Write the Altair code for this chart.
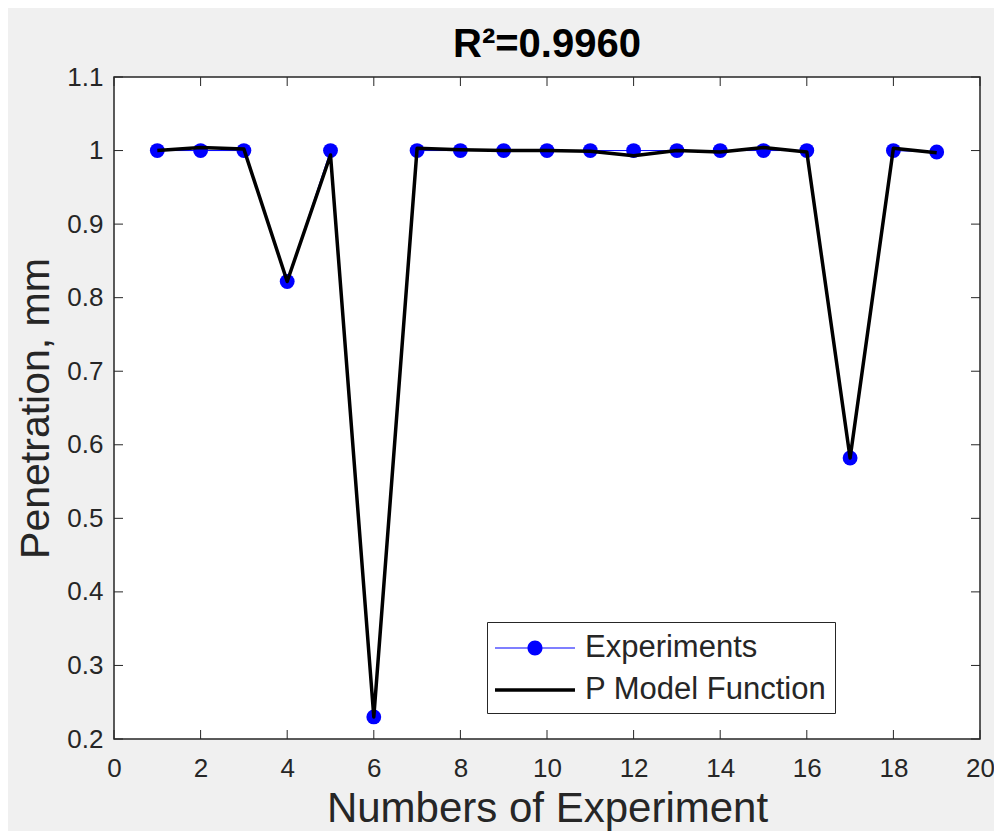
import altair as alt
import pandas as pd

# ---------------- data ----------------
experiment_no = list(range(1, 20))
experiments = [1.000, 1.000, 1.000, 0.822, 1.000, 0.230, 1.000, 1.000, 1.000, 1.000,
               1.000, 1.000, 1.000, 1.000, 1.000, 1.000, 0.582, 1.000, 0.998]
p_model = [1.000, 1.004, 1.002, 0.822, 0.994, 0.230, 1.003, 1.001, 1.000, 1.000,
           0.999, 0.993, 1.000, 0.998, 1.004, 0.998, 0.582, 1.003, 0.997]
x_ticks = [0, 2, 4, 6, 8, 10, 12, 14, 16, 18, 20]
y_ticks = [0.2, 0.3, 0.4, 0.5, 0.6, 0.7, 0.8, 0.9, 1.0, 1.1]
series_names = ["Experiments", "P Model Function"]
title_text = "R\u00b2=0.9960"
x_title = "Numbers of Experiment"
y_title = "Penetration, mm"

# ---------------- style ----------------
FONT = "Liberation Sans"
W, H = 866, 662
TICK = 9
AXIS_COLOR = "#262626"
BLUE = "#0000ff"

df_exp = pd.DataFrame({"x": experiment_no, "y": experiments, "series": series_names[0]})
df_mod = pd.DataFrame({"x": experiment_no, "y": p_model, "series": series_names[1]})
df_xt = pd.DataFrame({"t": x_ticks})
df_yt = pd.DataFrame({"t": y_ticks})

xs = alt.Scale(domain=[0, 20], nice=False, zero=False)
ys = alt.Scale(domain=[0.2, 1.1], nice=False, zero=False)

x_axis = alt.Axis(values=x_ticks, format="d", ticks=False, tickSize=0, domain=False, grid=False,
                  labelFont=FONT, labelFontSize=26, labelColor=AXIS_COLOR, labelPadding=16,
                  labelFlush=False, labelOverlap=False,
                  title=x_title, titleFont=FONT, titleFontSize=42, titleFontWeight="normal",
                  titleColor=AXIS_COLOR, titleX=W / 2, titleY=82, titleAlign="center",
                  titleBaseline="alphabetic")
y_axis = alt.Axis(values=y_ticks, format=".1~f", ticks=False, tickSize=0, domain=False, grid=False,
                  labelFont=FONT, labelFontSize=26, labelColor=AXIS_COLOR, labelPadding=11,
                  labelFlush=False, labelOverlap=False,
                  title=y_title, titleFont=FONT, titleFontSize=41, titleFontWeight="normal",
                  titleColor=AXIS_COLOR, titleAngle=270, titleX=-66, titleY=H / 2,
                  titleAlign="center", titleBaseline="alphabetic")

X = alt.X("x:Q", scale=xs, axis=x_axis)
Y = alt.Y("y:Q", scale=ys, axis=y_axis)

# inward ticks on all four sides
bottom_ticks = alt.Chart(df_xt).mark_rule(color=AXIS_COLOR, strokeWidth=1).encode(
    x=alt.X("t:Q", scale=xs, axis=x_axis), y=alt.value(H), y2=alt.value(H - TICK))
top_ticks = alt.Chart(df_xt).mark_rule(color=AXIS_COLOR, strokeWidth=1).encode(
    x=alt.X("t:Q", scale=xs, axis=x_axis), y=alt.value(0), y2=alt.value(TICK))
left_ticks = alt.Chart(df_yt).mark_rule(color=AXIS_COLOR, strokeWidth=1).encode(
    y=alt.Y("t:Q", scale=ys, axis=y_axis), x=alt.value(0), x2=alt.value(TICK))
right_ticks = alt.Chart(df_yt).mark_rule(color=AXIS_COLOR, strokeWidth=1).encode(
    y=alt.Y("t:Q", scale=ys, axis=y_axis), x=alt.value(W - TICK), x2=alt.value(W))

exp_line = alt.Chart(df_exp).mark_line(color=BLUE, strokeWidth=1).encode(x=X, y=Y)
exp_pts = alt.Chart(df_exp).mark_circle(color=BLUE, opacity=1, size=220).encode(x=X, y=Y)
mod_line = alt.Chart(df_mod).mark_line(color="black", strokeWidth=3.5, strokeJoin="round").encode(x=X, y=Y)

# legend symbols (unit = 18 px, symbol box from -1 to 1)
path_exp = ("M-1,-0.03H3.444V0.03H-1Z"
            "M0.805,0A0.417,0.417 0 1,1 1.639,0A0.417,0.417 0 1,1 0.805,0Z")
path_mod = "M-1,-0.1H3.444V0.1H-1Z"

leg = alt.Legend(title=None, orient="none", legendX=373, legendY=545,
                 labelFont=FONT, labelFontSize=31, labelColor=AXIS_COLOR, labelLimit=500,
                 symbolSize=1296, symbolStrokeWidth=0, symbolOpacity=1,
                 labelOffset=54, rowPadding=9, padding=8,
                 strokeColor=AXIS_COLOR, fillColor="white")

legend_layer = alt.Chart(df_exp).mark_point(filled=True, opacity=0).encode(
    x=X, y=Y,
    color=alt.Color("series:N", scale=alt.Scale(domain=series_names, range=[BLUE, "black"]), legend=leg),
    shape=alt.Shape("series:N", scale=alt.Scale(domain=series_names, range=[path_exp, path_mod]), legend=leg),
)

chart = alt.layer(
    bottom_ticks, top_ticks, left_ticks, right_ticks,
    exp_line, exp_pts, mod_line, legend_layer
).properties(
    width=W, height=H,
    title=alt.Title(title_text, font=FONT, fontSize=40, fontWeight="bold", color="black",
                    anchor="middle", frame="group", offset=9, baseline="bottom", dy=50),
    padding={"left": 106, "top": 69, "right": 14, "bottom": 92},
    autosize=alt.AutoSizeParams(type="none"),
    background="#f0f0f0",
).configure_view(stroke=AXIS_COLOR, strokeWidth=1.5, fill="white")

chart.save("out.html", embed_options={"renderer": "svg", "actions": False})
